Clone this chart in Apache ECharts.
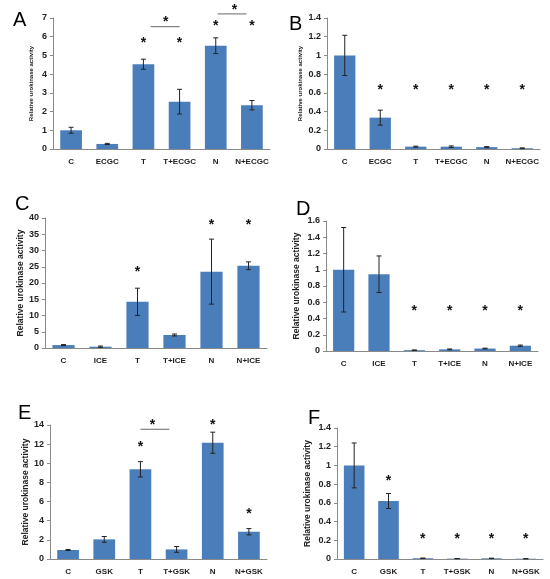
<!DOCTYPE html>
<html>
<head>
<meta charset="utf-8">
<script src="https://cdn.jsdelivr.net/npm/echarts@6/dist/echarts.min.js"></script>
<style>
  html, body { margin: 0; padding: 0; background: #fff; }
  #chart { width: 550px; height: 579px; }
</style>
</head>
<body>
<div id="chart"></div>
<script>
// categories
var catsA = ['C', 'ECGC', 'T', 'T+ECGC', 'N', 'N+ECGC'];
var catsC = ['C', 'ICE', 'T', 'T+ICE', 'N', 'N+ICE'];
var catsE = ['C', 'GSK', 'T', 'T+GSK', 'N', 'N+GSK'];

// bar values and error (+/-)
var valA = [1.0, 0.27, 4.53, 2.53, 5.52, 2.34];
var errA = [0.16, 0.03, 0.27, 0.66, 0.42, 0.25];
var valB = [1.0, 0.335, 0.025, 0.025, 0.02, 0.008];
var errB = [0.215, 0.08, 0.005, 0.008, 0.006, 0.004];
var valC = [0.9, 0.4, 14.2, 4.0, 23.5, 25.3];
var errC = [0.15, 0.2, 4.2, 0.3, 10.0, 1.2];
var valD = [1.0, 0.945, 0.01, 0.02, 0.03, 0.065];
var errD = [0.52, 0.225, 0.003, 0.005, 0.005, 0.008];
var valE = [0.94, 2.05, 9.37, 1.0, 12.15, 2.85];
var errE = [0.05, 0.3, 0.8, 0.3, 1.1, 0.33];
var valF = [1.0, 0.62, 0.008, 0.004, 0.007, 0.003];
var errF = [0.24, 0.08, 0.002, 0.001, 0.002, 0.001];

// axis ranges [max, interval]
var axisA = [7, 1];
var axisB = [1.4, 0.2];
var axisC = [40, 5];
var axisD = [1.6, 0.2];
var axisE = [14, 2];
var axisF = [1.4, 0.2];

// significance stars [category position, y] and brackets [from, to, y]
var starsA = [[2, 5.87], [3, 5.87], [4, 6.76], [5, 6.76], [2.62, 7.0], [4.52, 7.65]];
var brackA = [[2.2, 3.0, 6.54], [4.05, 4.85, 7.22]];
var starsB = [[1, 0.672], [2, 0.672], [3, 0.672], [4, 0.672], [5, 0.672]];
var starsC = [[2, 24.5], [4, 38.9], [5, 38.9]];
var starsD = [[2, 0.545], [3, 0.545], [4, 0.545], [5, 0.545]];
var starsE = [[2, 12.15], [4, 14.4], [5, 5.1], [2.33, 14.4]];
var brackE = [[2.0, 2.8, 13.55]];
var starsF = [[1, 0.88], [2, 0.25], [3, 0.25], [4, 0.25], [5, 0.25]];

var font = 'Liberation Sans, Arial, sans-serif';
var barColor = '#4A7EBB';

var panels = [
    { letter: 'A', lx: 8, ly: 5, grid: { left: 53, top: 18, width: 217, height: 131 }, cats: catsA, val: valA, err: errA, axis: axisA, stars: starsA, brack: brackA, nameSize: 6, nameGap: 19 },
    { letter: 'B', lx: 284, ly: 9, grid: { left: 327, top: 18, width: 213, height: 131 }, cats: catsA, val: valB, err: errB, axis: axisB, stars: starsB, brack: [], nameSize: 6, nameGap: 24 },
    { letter: 'C', lx: 10, ly: 189, grid: { left: 45, top: 218, width: 222, height: 130 }, cats: catsC, val: valC, err: errC, axis: axisC, stars: starsC, brack: [], nameSize: 8.5, nameGap: 20 },
    { letter: 'D', lx: 291, ly: 194, grid: { left: 326, top: 221, width: 212, height: 130 }, cats: catsC, val: valD, err: errD, axis: axisD, stars: starsD, brack: [], nameSize: 8.5, nameGap: 25 },
    { letter: 'E', lx: 13, ly: 398, grid: { left: 50, top: 425, width: 217, height: 134 }, cats: catsE, val: valE, err: errE, axis: axisE, stars: starsE, brack: brackE, nameSize: 8.5, nameGap: 19 },
    { letter: 'F', lx: 303, ly: 403, grid: { left: 337, top: 428, width: 206, height: 131 }, cats: catsE, val: valF, err: errF, axis: axisF, stars: starsF, brack: [], nameSize: 8.5, nameGap: 25 }
];

var posX = function (api, p, y) {
    var i = Math.floor(p);
    var frac = p - i;
    var pt = api.coord([i, y]);
    var band = api.size([1, 0])[0];
    return [pt[0] + frac * band, pt[1]];
};

var option = {
    backgroundColor: '#fff',
    animation: false,
    title: [],
    grid: [],
    xAxis: [],
    yAxis: [],
    series: []
};

panels.forEach(function (p, k) {
    option.title.push({
        text: p.letter, left: p.lx, top: p.ly,
        textStyle: { fontFamily: font, fontSize: 20, fontWeight: 'normal', color: '#000' }
    });
    option.grid.push(p.grid);
    option.xAxis.push({
        type: 'category', gridIndex: k, data: p.cats,
        axisLine: { lineStyle: { color: '#8a8a8a', width: 1 } },
        axisTick: { show: false },
        axisLabel: { fontFamily: font, fontSize: 8, fontWeight: 'bold', color: '#222', margin: 9, interval: 0 }
    });
    option.yAxis.push({
        type: 'value', gridIndex: k, min: 0, max: p.axis[0], interval: p.axis[1],
        name: 'Relative urokinase activity', nameLocation: 'middle', nameGap: p.nameGap,
        nameTextStyle: { fontFamily: font, fontSize: p.nameSize, color: '#222', fontWeight: 'bold' },
        axisLine: { show: true, lineStyle: { color: '#8a8a8a', width: 1 } },
        axisTick: { show: true, length: 3, lineStyle: { color: '#8a8a8a' } },
        splitLine: { show: false },
        axisLabel: { fontFamily: font, fontSize: 9, fontWeight: 'bold', color: '#222', margin: 6 }
    });
    option.series.push({
        type: 'bar', xAxisIndex: k, yAxisIndex: k, data: p.val,
        barWidth: '60%', itemStyle: { color: barColor }
    });
    option.series.push({
        type: 'custom', xAxisIndex: k, yAxisIndex: k,
        data: p.val.map(function (v, i) { return [i, v - p.err[i], v + p.err[i]]; }),
        z: 5,
        renderItem: function (params, api) {
            var lo = api.coord([api.value(0), api.value(1)]);
            var hi = api.coord([api.value(0), api.value(2)]);
            var c = 2.5;
            var st = { stroke: '#222', lineWidth: 1 };
            return {
                type: 'group',
                children: [
                    { type: 'line', shape: { x1: lo[0], y1: lo[1], x2: hi[0], y2: hi[1] }, style: st },
                    { type: 'line', shape: { x1: hi[0] - c, y1: hi[1], x2: hi[0] + c, y2: hi[1] }, style: st },
                    { type: 'line', shape: { x1: lo[0] - c, y1: lo[1], x2: lo[0] + c, y2: lo[1] }, style: st }
                ]
            };
        }
    });
    option.series.push({
        type: 'custom', xAxisIndex: k, yAxisIndex: k,
        data: p.stars, z: 6,
        renderItem: function (params, api) {
            var pt = posX(api, api.value(0), api.value(1));
            return {
                type: 'text',
                style: {
                    text: '*', x: pt[0], y: pt[1] + 4,
                    fontFamily: font, fontSize: 14, fontWeight: 'bold', fill: '#111',
                    align: 'center', verticalAlign: 'middle'
                }
            };
        }
    });
    if (p.brack.length) {
        option.series.push({
            type: 'custom', xAxisIndex: k, yAxisIndex: k,
            data: p.brack, z: 6,
            renderItem: function (params, api) {
                var a = posX(api, api.value(0), api.value(2));
                var b = posX(api, api.value(1), api.value(2));
                return {
                    type: 'line',
                    shape: { x1: a[0], y1: a[1], x2: b[0], y2: b[1] },
                    style: { stroke: '#808080', lineWidth: 1.2 }
                };
            }
        });
    }
});

var myChart = echarts.init(document.getElementById('chart'));
myChart.setOption(option);
</script>
</body>
</html>
